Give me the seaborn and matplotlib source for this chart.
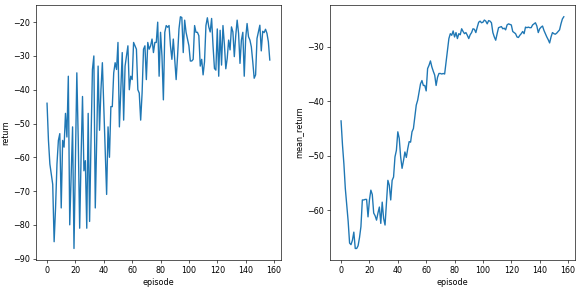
import numpy as np
import pandas as pd
import matplotlib
matplotlib.use("Agg")
import matplotlib.pyplot as plt
import seaborn as sns

# values, one per episode (0..157)
returns = [
    -44, -55, -62, -65, -68, -85, -75, -62, -55, -53,
    -75, -55, -57, -47, -54, -36, -80, -65, -51, -87,
    -60, -35, -55, -81, -60, -42, -64, -61, -81, -47,
    -79, -55, -34, -30, -75, -55, -33, -52, -40, -32,
    -45, -58, -71, -51, -60, -45, -45, -35, -32, -34,
    -26, -51, -40, -29, -49, -33, -30, -27, -40, -36,
    -37, -26, -27, -28, -40, -41, -49, -41, -28, -27,
    -37, -26, -28, -27, -25, -29, -26, -26, -20, -36,
    -23, -30, -43, -23, -21, -21.5, -21, -27, -31, -25,
    -31, -37, -30, -22, -18.4, -18.6, -29, -19.4, -23, -25,
    -27, -31.5, -31.5, -31, -21, -23, -23, -24, -33, -31,
    -35.6, -31.7, -21, -18.7, -21.4, -22.9, -18.9, -27, -33.7, -34.2,
    -22, -36, -22.4, -32.7, -21, -26.5, -33.8, -30.7, -25.3, -28.2,
    -21.4, -22.9, -30.2, -24, -19.4, -23.3, -32.2, -25.3, -23, -36,
    -24.8, -20.4, -24.3, -25.3, -27.3, -31.7, -36.6, -35.6, -24.8, -22.9,
    -20.9, -28.5, -22.7, -23.1, -22.1, -23.3, -25.8, -31.2,
]

mean_returns = [
    -43.6, -48, -51.5, -56, -59, -62, -66, -66.3, -65.5, -64,
    -67, -67, -66.5, -65, -63, -58.1, -58.1, -58, -58, -61.2,
    -58.1, -56.3, -57.1, -60.5, -61, -61.8, -60.5, -59.4, -62.4, -58.5,
    -61.5, -62.7, -58.5, -54.5, -55.4, -58.1, -54.5, -53.9, -50.2, -49,
    -45.6, -46.8, -50.2, -52.3, -50.9, -49.3, -50.3, -48.7, -47.4, -47.5,
    -45.6, -45, -42.9, -40.7, -39.8, -38.3, -36.8, -36.2, -37.1, -37.1,
    -38.1, -34, -33.4, -32.6, -33.7, -34.5, -35.2, -37.1, -35.6, -34.9,
    -34.9, -35, -34.9, -35, -32.8, -30.7, -28.5, -27.6, -27.9, -27.1,
    -28.2, -27.4, -28.5, -27.6, -27.8, -26.7, -27.2, -27.6, -27.4, -27.9,
    -28.5, -27.8, -27.4, -26.7, -26.8, -27.4, -26.4, -25.5, -25.3, -25.6,
    -25.5, -25.1, -25.3, -25.8, -25.2, -25.3, -25.6, -27.4, -28.2, -28.8,
    -27.6, -26.5, -26.4, -26.3, -26.7, -26.6, -26.9, -26, -25.8, -25.9,
    -26, -27.2, -27.4, -27.6, -28.2, -28.3, -27.9, -27.6, -27.2, -27.6,
    -26.4, -26.5, -26.4, -26.5, -26.5, -26, -25.8, -25.6, -26.2, -27.4,
    -26.7, -26.4, -26.2, -27, -27.6, -28.2, -28.7, -29.3, -28.2, -27.4,
    -27.6, -27.7, -27.5, -27.2, -26.9, -25.8, -24.9, -24.5,
]

df = pd.DataFrame({
    "episode": np.arange(len(returns)),
    "return": returns,
    "mean_return": mean_returns,
})

dpi = 57.9
fig, axes = plt.subplots(1, 2, figsize=(579 / dpi, 288 / dpi), dpi=dpi)
sns.lineplot(data=df, x="episode", y="return", ax=axes[0], color="tab:blue", linewidth=1.7)
sns.lineplot(data=df, x="episode", y="mean_return", ax=axes[1], color="tab:blue", linewidth=1.7)

for ax in axes:
    ax.set_xticks(range(0, 161, 20))

fig.subplots_adjust(left=0.062, right=0.993, top=0.982, bottom=0.097, wspace=0.2)
fig.savefig("out.png", dpi=dpi)
